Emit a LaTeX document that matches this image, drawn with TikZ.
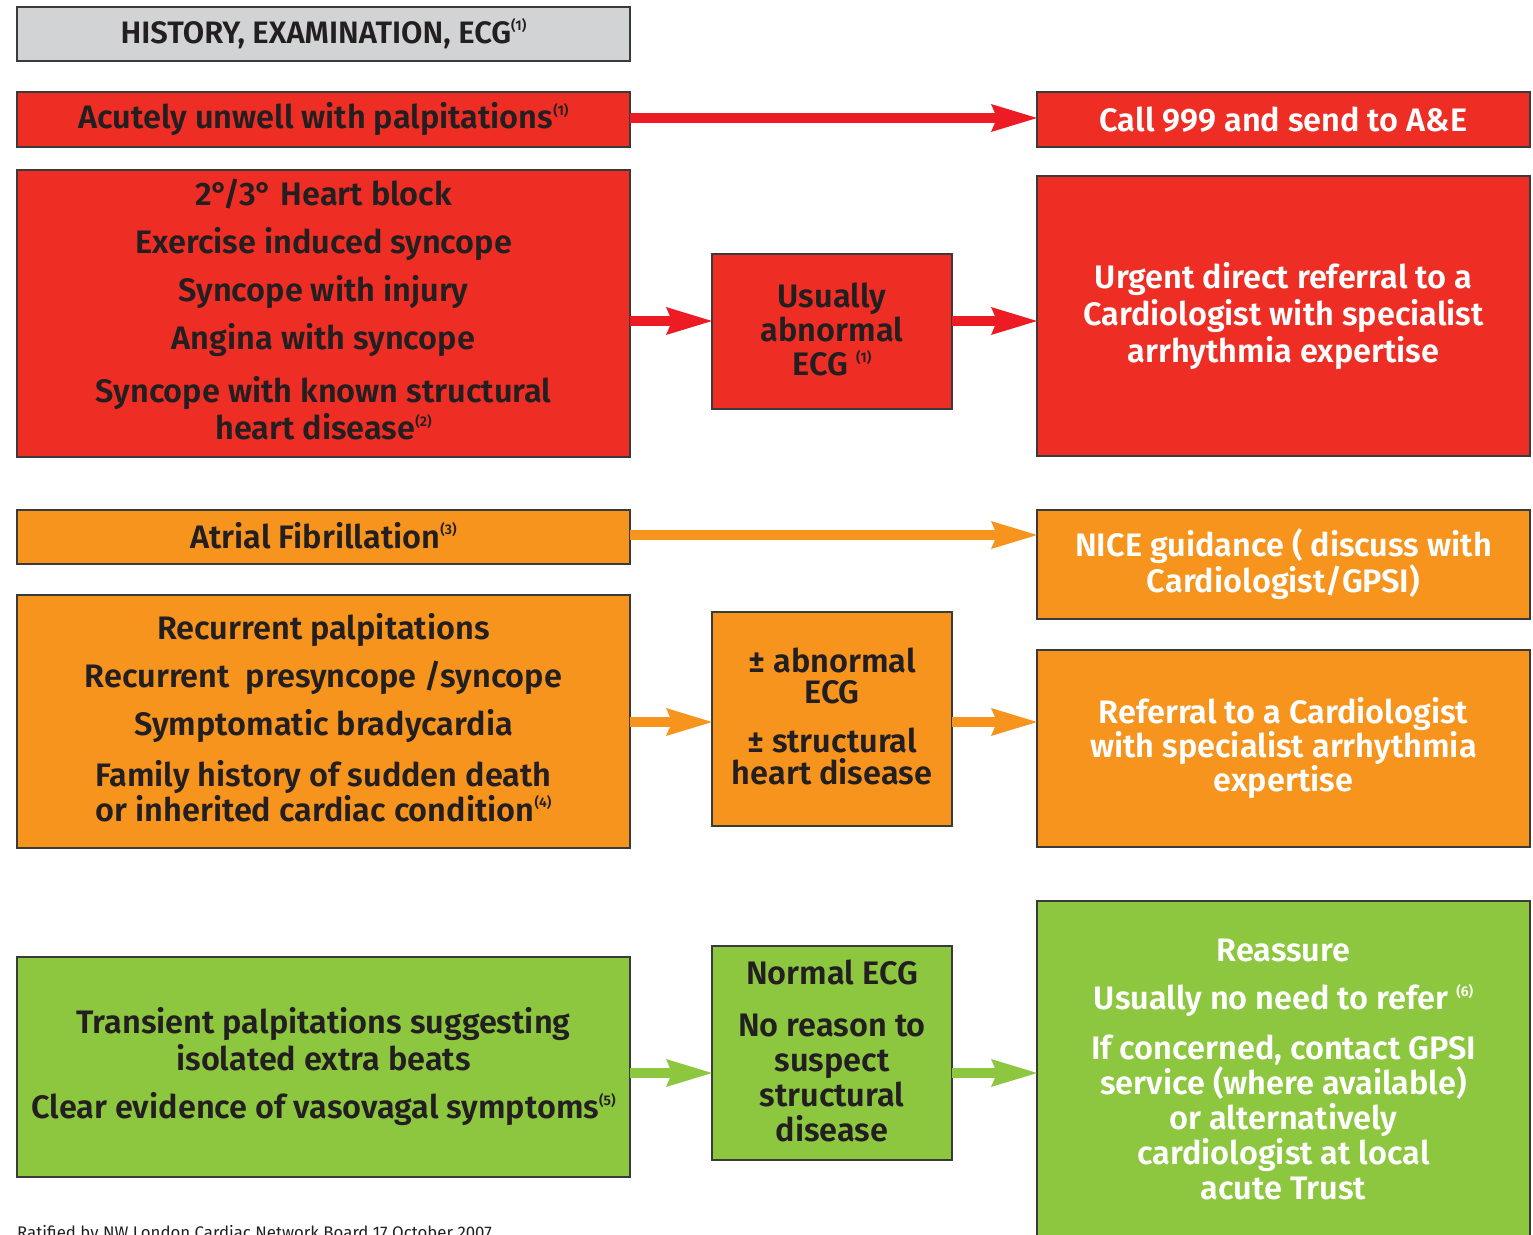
\documentclass[tikz,border=0pt]{standalone}
\usepackage{fontspec}
\setmainfont{Fira Sans}[BoldFont={Fira Sans SemiBold}]
\usetikzlibrary{arrows.meta}
\definecolor{boxred}{HTML}{EE2D24}
\definecolor{arrred}{HTML}{ED1C24}
\definecolor{boxorange}{HTML}{F7941D}
\definecolor{boxgreen}{HTML}{8DC63F}
\definecolor{hdrgray}{HTML}{D1D3D4}
\definecolor{dark}{HTML}{231F20}
\definecolor{bordc}{HTML}{3A3A3A}
\newcommand\supnote[1]{\raisebox{0.42em}{\fontsize{14}{14}\selectfont(#1)}}
\newcommand\fs[1]{\bfseries\fontsize{32.5}{#1}\selectfont}
\newcommand\lift[1]{\rule[-#1]{0pt}{#1}}
\begin{document}
\begin{tikzpicture}[x=1pt,y=-1pt,
  box/.style={draw=bordc, line width=1.4pt, inner sep=0pt, outer sep=0pt,
    anchor=north west, align=center, text=dark, font=\fs{37}},
  wtext/.style={text=white},
  arr/.style={line width=10pt, -{Stealth[length=46pt,width=28pt,inset=6pt,line width=0pt]}}
]
\useasboundingbox (0,0) rectangle (1533,1234);
\fill[white] (0,0) rectangle (1533,1234);

% header
\node[box, fill=hdrgray, minimum width=613pt, minimum height=54pt,
  font=\bfseries\fontsize{31}{34}\selectfont] (hist) at (17,7)
  {HISTORY, EXAMINATION, ECG\supnote{1}};

% red rows
\node[box, fill=boxred, minimum width=613pt, minimum height=55pt] (acute) at (17,92)
  {Acutely unwell with palpitations\supnote{1}};
\node[box, wtext, fill=boxred, minimum width=493pt, minimum height=55pt] (call) at (1037,92)
  {Call 999 and send to A\&E};

\node[box, fill=boxred, minimum width=613pt, minimum height=287pt] (block) at (17,170)
  {2°/3° Heart block\\[11pt]Exercise induced syncope\\[11pt]Syncope with injury\\[11pt]Angina with syncope\\[16pt]Syncope with known structural\\heart disease\supnote{2}\lift{8pt}};
\node[box, fill=boxred, minimum width=240pt, minimum height=155pt, font=\fs{34}] (usual) at (712,254)
  {Usually\\abnormal\\ECG \supnote{1}\lift{4pt}};
\node[box, wtext, fill=boxred, minimum width=493pt, minimum height=280pt] (urgent) at (1037,176)
  {Urgent direct referral to a\\Cardiologist with specialist\\arrhythmia expertise};

% orange rows
\node[box, fill=boxorange, minimum width=613pt, minimum height=54pt] (af) at (17,510)
  {Atrial Fibrillation\supnote{3}\lift{4pt}};
\node[box, wtext, fill=boxorange, minimum width=493pt, minimum height=109pt, font=\fs{36}] (nice) at (1037,510)
  {NICE guidance ( discuss with\\Cardiologist/GPSI)};

\node[box, fill=boxorange, minimum width=613pt, minimum height=253pt, font=\fs{35}] (recur) at (17,595)
  {Recurrent palpitations\\[13pt]Recurrent\ \ presyncope /syncope\\[13pt]Symptomatic bradycardia\\[16pt]Family history of sudden death\\or inherited cardiac condition\supnote{4}\lift{8pt}};
\node[box, fill=boxorange, minimum width=240pt, minimum height=214pt, font=\fs{31.5}] (pm) at (712,612)
  {± abnormal\\ECG\\[17.5pt]± structural\\heart disease\lift{6pt}};
\node[box, wtext, fill=boxorange, minimum width=493pt, minimum height=197pt, font=\fs{34}] (refer) at (1037,650)
  {Referral to a Cardiologist\\with specialist arrhythmia\\expertise};

% green rows
\node[box, fill=boxgreen, minimum width=613pt, minimum height=220pt] (trans) at (17,957)
  {Transient palpitations suggesting\\isolated extra beats\\[11pt]Clear evidence of vasovagal symptoms\supnote{5}};
\node[box, fill=boxgreen, minimum width=240pt, minimum height=214pt, font=\fs{35}] (normal) at (712,946)
  {Normal ECG\\[17pt]No reason to\\suspect\\structural\\disease\lift{4pt}};
\node[box, wtext, fill=boxgreen, minimum width=493pt, minimum height=345pt, font=\fs{35}] (reass) at (1037,901)
  {Reassure\\[13pt]Usually no need to refer \supnote{6}\\[15pt]If concerned, contact GPSI\\service (where available)\\or alternatively\\cardiologist at local\\acute Trust\lift{8pt}};

% footer
\node[anchor=base west, inner sep=0pt, text=dark, font=\fontsize{16.8}{19}\selectfont] (foot) at (17,1238)
  {Ratified by NW London Cardiac Network Board 17 October 2007};

% arrow levels
\coordinate (y1) at (0,118);
\coordinate (y2) at (0,321);
\coordinate (y3) at (0,535);
\coordinate (y4) at (0,722);
\coordinate (y5) at (0,1073);

\draw[arr, arrred] (acute.east |- y1) -- (call.west |- y1);
\draw[arr, arrred] (block.east |- y2) -- (usual.west |- y2);
\draw[arr, arrred] (usual.east |- y2) -- (urgent.west |- y2);
\draw[arr, boxorange] (af.east |- y3) -- (nice.west |- y3);
\draw[arr, boxorange] (recur.east |- y4) -- (pm.west |- y4);
\draw[arr, boxorange] (pm.east |- y4) -- (refer.west |- y4);
\draw[arr, boxgreen] (trans.east |- y5) -- (normal.west |- y5);
\draw[arr, boxgreen] (normal.east |- y5) -- (reass.west |- y5);
\end{tikzpicture}
\end{document}
